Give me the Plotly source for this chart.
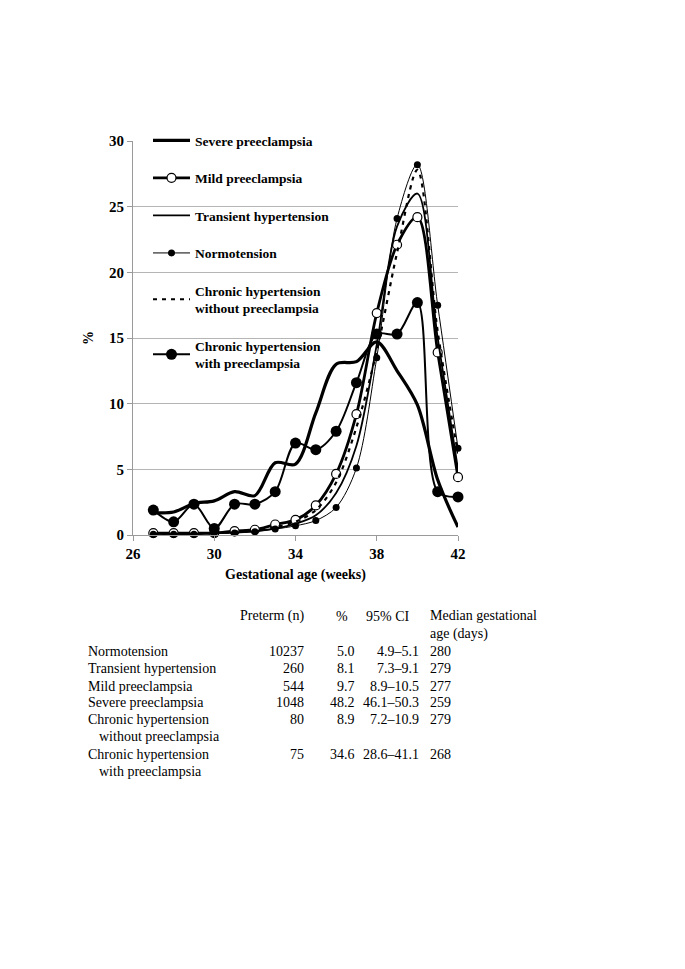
import plotly.graph_objects as go

weeks = list(range(27, 43))

severe = [1.7, 1.75, 2.4, 2.6, 3.3, 3.0, 5.5, 5.4, 9.3, 13.0, 13.2, 14.7, 12.5, 9.9, 4.2, 0.6]
mild = [0.15, 0.15, 0.15, 0.15, 0.3, 0.4, 0.8, 1.15, 2.25, 4.65, 9.2, 16.9, 22.1, 24.2, 13.9, 4.4]
transient = [0.1, 0.1, 0.1, 0.15, 0.2, 0.3, 0.5, 0.85, 1.5, 3.2, 6.8, 14.5, 23.5, 26.0, 15.0, 5.0]
normo = [0.05, 0.05, 0.05, 0.1, 0.15, 0.25, 0.45, 0.7, 1.1, 2.1, 5.1, 13.5, 24.1, 28.2, 17.5, 6.6]
chronic_wo = [0.1, 0.1, 0.1, 0.15, 0.25, 0.35, 0.6, 1.0, 1.9, 4.0, 8.2, 14.0, 21.5, 27.8, 15.5, 6.2]
chronic_w = [1.9, 1.0, 2.35, 0.5, 2.35, 2.35, 3.3, 7.0, 6.5, 7.9, 11.6, 15.3, 15.3, 17.7, 3.3, 2.9]

x_ticks = [26, 30, 34, 38, 42]
y_ticks = [0, 5, 10, 15, 20, 25, 30]

table_header = ["Preterm (n)", "%", "95% CI", "Median gestational<br>age (days)"]
table_groups = ["Normotension", "Transient hypertension", "Mild preeclampsia", "Severe preeclampsia",
                "Chronic hypertension", "Chronic hypertension"]
table_groups2 = ["", "", "", "", "without preeclampsia", "with preeclampsia"]
table_n = ["10237", "260", "544", "1048", "80", "75"]
table_pct = ["5.0", "8.1", "9.7", "48.2", "8.9", "34.6"]
table_ci = ["4.9–5.1", "7.3–9.1", "8.9–10.5", "46.1–50.3", "7.2–10.9", "28.6–41.1"]
table_median = ["280", "279", "277", "259", "279", "268"]

SERIF = "Liberation Serif, Times New Roman, serif"

fig = go.Figure()

def add(name, y, width, dash="solid", marker=None):
    kw = dict(x=weeks, y=y, name=name, legendgroup=name,
              line=dict(color="black", width=width, dash=dash, shape="spline", smoothing=0.9),
              cliponaxis=False)
    if marker:
        kw["mode"] = "lines+markers"
        kw["marker"] = marker
    else:
        kw["mode"] = "lines"
    fig.add_trace(go.Scatter(**kw))

add("Severe preeclampsia", severe, 3.2)
add("Mild preeclampsia", mild, 2.8,
    marker=dict(symbol="circle", size=9, color="white", line=dict(color="black", width=1.2)))
add("Transient hypertension", transient, 1.8)
add("Normotension", normo, 1.0,
    marker=dict(symbol="circle", size=7, color="black"))
add("Chronic hypertension<br>without preeclampsia", chronic_wo, 2.2, dash="4px,5px")
add("Chronic hypertension<br>with preeclampsia", chronic_w, 2.0,
    marker=dict(symbol="circle", size=11, color="black"))

# page offset (browser body margin)
OFF = 8
L, R, T, B = 133, 458, 141, 535   # plot area in reference pixels
W, H = 685, 969

def px_x(px):
    return (px - L) / (R - L)

def px_y(py):
    return (B - py) / (B - T)

ann = []
tfont = dict(family=SERIF, size=14, color="black")
ann.append(dict(x=px_x(306), y=px_y(616), text=table_header[0], xanchor="right", yanchor="middle"))
ann.append(dict(x=px_x(350), y=px_y(616), text=table_header[1], xanchor="right", yanchor="middle"))
ann.append(dict(x=px_x(364), y=px_y(616), text=table_header[2], xanchor="left", yanchor="middle"))
ann.append(dict(x=px_x(428), y=px_y(625), text=table_header[3], xanchor="left", yanchor="middle", align="left"))
row_y = [651, 668, 686, 702, 719, 754]
for i, ry in enumerate(row_y):
    ann.append(dict(x=px_x(86), y=px_y(ry), text=table_groups[i], xanchor="left", yanchor="middle"))
    if table_groups2[i]:
        ann.append(dict(x=px_x(97), y=px_y(ry + 17), text=table_groups2[i], xanchor="left", yanchor="middle"))
    ann.append(dict(x=px_x(306), y=px_y(ry), text=table_n[i], xanchor="right", yanchor="middle"))
    ann.append(dict(x=px_x(357), y=px_y(ry), text=table_pct[i], xanchor="right", yanchor="middle"))
    ann.append(dict(x=px_x(421), y=px_y(ry), text=table_ci[i], xanchor="right", yanchor="middle"))
    ann.append(dict(x=px_x(428), y=px_y(ry), text=table_median[i], xanchor="left", yanchor="middle"))
for a in ann:
    a.update(xref="paper", yref="paper", showarrow=False, font=tfont)

# white backing behind the legend: hides gridlines but stays under the curves
legend_bg = dict(type="rect", xref="paper", yref="paper", layer="between",
                 x0=px_x(147), x1=px_x(338), y0=px_y(372), y1=px_y(128),
                 fillcolor="white", line=dict(width=0))

fig.update_layout(
    width=W, height=H,
    margin=dict(l=L - OFF, r=W - R + OFF, t=T - OFF, b=H - B + OFF, autoexpand=False),
    paper_bgcolor="white", plot_bgcolor="white",
    font=dict(family=SERIF, color="black"),
    showlegend=True,
    shapes=[legend_bg],
    legend=dict(x=px_x(148), y=px_y(125), xanchor="left", yanchor="top",
                bgcolor="rgba(255,255,255,0)", borderwidth=0, tracegroupgap=17, itemwidth=37,
                font=dict(family=SERIF, size=13.5, color="black", weight="bold"),
                traceorder="grouped"),
    annotations=ann,
    xaxis=dict(range=[26, 42], tickvals=x_ticks, showgrid=False, zeroline=False,
               showline=True, linecolor="#9a9a9a", linewidth=1, ticks="outside", ticklen=5,
               tickcolor="#9a9a9a",
               tickfont=dict(family=SERIF, size=15, color="black", weight="bold"),
               title=dict(text="Gestational age (weeks)", standoff=8,
                          font=dict(family=SERIF, size=14, color="black", weight="bold"))),
    yaxis=dict(range=[0, 30], tickvals=y_ticks, showgrid=True, gridcolor="#b5b5b5", gridwidth=1,
               zeroline=False, showline=True, linecolor="#9a9a9a", linewidth=1,
               ticks="outside", ticklen=5, tickcolor="#9a9a9a",
               tickfont=dict(family=SERIF, size=15, color="black", weight="bold"),
               title=dict(text="%", standoff=12,
                          font=dict(family=SERIF, size=14, color="black", weight="bold"))),
)

fig.write_html("out.html")
